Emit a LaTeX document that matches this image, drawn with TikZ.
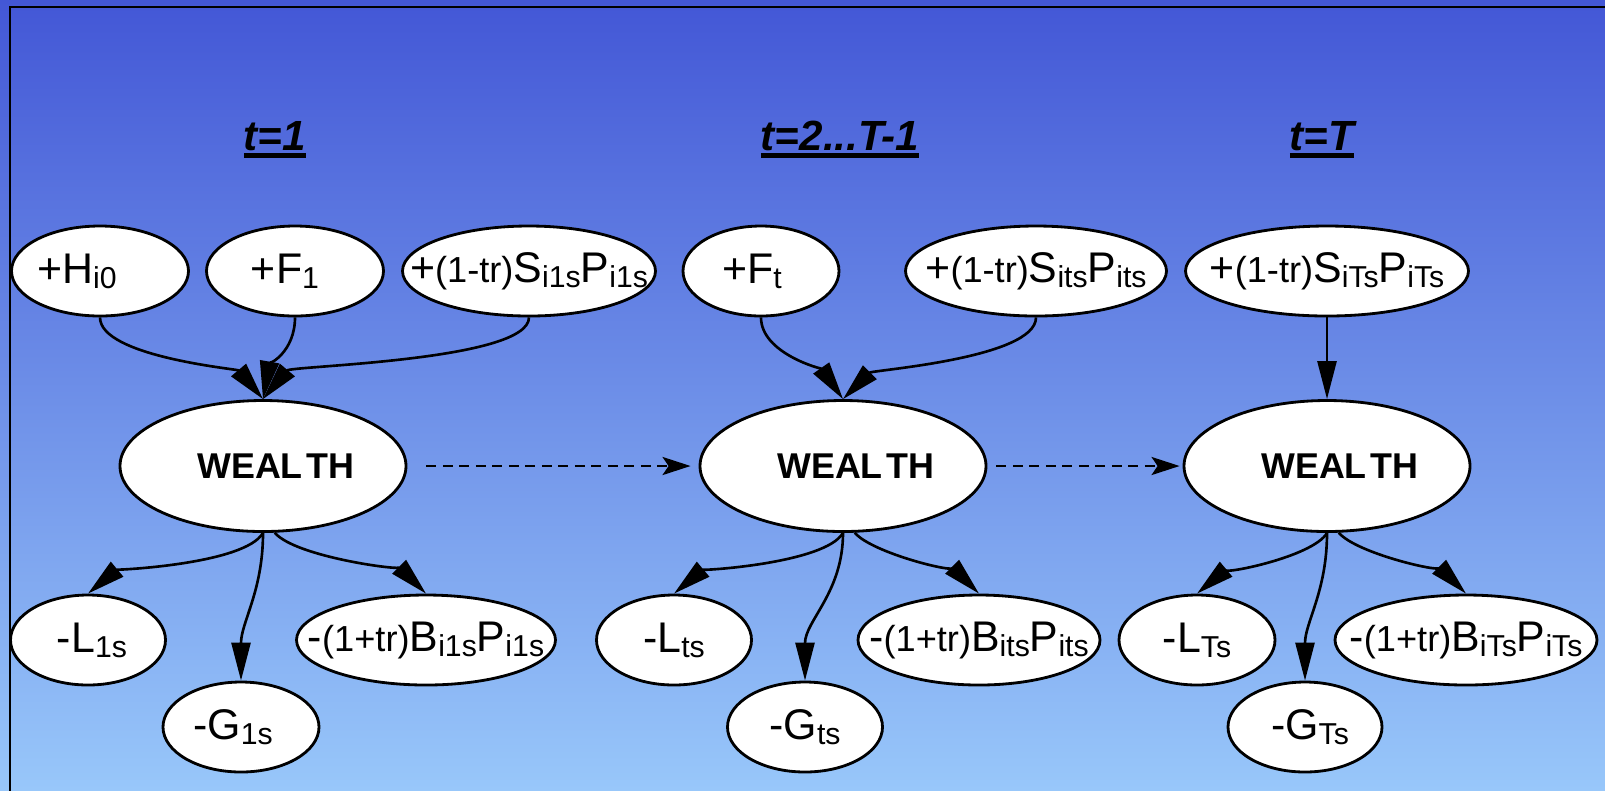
\documentclass[tikz,border=0pt]{standalone}
\usepackage{fontspec}
\setmainfont{Liberation Sans}
\usepackage{tikz}
\usetikzlibrary{shapes.geometric,arrows.meta}
\definecolor{bgtop}{HTML}{4357D6}
\definecolor{bgbottom}{HTML}{98C7FA}

\newsavebox{\titlebox}
\newcommand{\steptitle}[1]{\sbox{\titlebox}{#1}\rlap{\usebox{\titlebox}}\rule[-0.075cm]{\wd\titlebox}{0.045cm}}
\newcommand{\subs}[1]{\raisebox{-0.05cm}{\fontsize{8.6pt}{9pt}\selectfont #1}}
\newcommand{\pfont}[1]{{\fontsize{10.3pt}{12pt}\selectfont #1}}
\newcommand{\inoval}[2][0cm]{\makebox[0pt]{\hspace*{#1}#2\hspace*{-#1}}}

\begin{document}
\begin{tikzpicture}[
    x=1cm, y=1cm,
    oval/.style={ellipse, draw=black, fill=white, line width=0.8pt, inner sep=0pt, minimum height=0.90cm, font=\fontsize{12.2pt}{14pt}\selectfont},
    wealth/.style={oval, minimum width=2.86cm, minimum height=1.31cm, font=\fontsize{10.2pt}{12pt}\selectfont\bfseries},
    steplabel/.style={anchor=base, inner sep=0pt, font=\fontsize{12pt}{14pt}\selectfont\bfseries\itshape},
    flow/.style={-{Triangle[length=0.38cm, width=0.19cm]}, line width=0.75pt},
    carry/.style={-{Stealth[length=0.28cm, width=0.18cm, inset=0.06cm]}, line width=0.8pt, dash pattern=on 0.10cm off 0.065cm}
]
    % --- BACKGROUND AND FRAME ---
    \useasboundingbox (0,0) rectangle (16.05,-7.90);
    \shade[top color=bgtop, bottom color=bgbottom] (0,0) rectangle (16.05,-7.90);
    \draw[line width=0.7pt] (0.10,-7.95) -- (0.10,-0.07) -- (16.10,-0.07);

    % --- PERIOD TITLES ---
    \node[steplabel] (T1) at (2.75,-1.50) {\steptitle{t=1}};
    \node[steplabel] (T2) at (8.40,-1.50) {\steptitle{t=2...T-1}};
    \node[steplabel] (T3) at (13.22,-1.50) {\steptitle{t=T}};

    % --- INFLOWS ---
    \node[oval, minimum width=1.77cm] (H1) at (1.00,-2.71) {\inoval[-0.23cm]{+H\subs{i0}}};
    \node[oval, minimum width=1.77cm] (F1) at (2.95,-2.71) {\inoval[-0.10cm]{+F\subs{1}}};
    \node[oval, minimum width=2.53cm] (S1) at (5.29,-2.71) {\inoval{+\pfont{(1-tr)}S\subs{i1s}P\subs{i1s}}};
    \node[oval, minimum width=1.56cm] (F2) at (7.61,-2.71) {\inoval[-0.09cm]{+F\subs{t}}};
    \node[oval, minimum width=2.61cm] (S2) at (10.36,-2.71) {\inoval{+\pfont{(1-tr)}S\subs{its}P\subs{its}}};
    \node[oval, minimum width=2.83cm] (S3) at (13.27,-2.71) {\inoval{+\pfont{(1-tr)}S\subs{iTs}P\subs{iTs}}};

    % --- WEALTH STATES ---
    \node[wealth] (W1) at (2.63,-4.66) {\inoval[0.13cm]{WEAL\kern0.04cm TH}};
    \node[wealth] (W2) at (8.43,-4.66) {\inoval[0.13cm]{WEAL\kern0.04cm TH}};
    \node[wealth] (W3) at (13.27,-4.66) {\inoval[0.13cm]{WEAL\kern0.04cm TH}};

    % --- OUTFLOWS ---
    \node[oval, minimum width=1.55cm] (L1) at (0.88,-6.40) {\inoval[0.04cm]{-L\subs{1s}}};
    \node[oval, minimum width=1.56cm] (G1) at (2.41,-7.27) {\inoval[-0.08cm]{-G\subs{1s}}};
    \node[oval, minimum width=2.59cm] (B1) at (4.26,-6.40) {\inoval{-\pfont{(1+tr)}B\subs{i1s}P\subs{i1s}}};
    \node[oval, minimum width=1.55cm] (L2) at (6.74,-6.40) {\inoval{-L\subs{ts}}};
    \node[oval, minimum width=1.55cm] (G2) at (8.05,-7.27) {\inoval{-G\subs{ts}}};
    \node[oval, minimum width=2.42cm] (B2) at (9.79,-6.40) {\inoval{-\pfont{(1+tr)}B\subs{its}P\subs{its}}};
    \node[oval, minimum width=1.56cm] (L3) at (11.97,-6.40) {\inoval{-L\subs{Ts}}};
    \node[oval, minimum width=1.54cm] (G3) at (13.05,-7.27) {\inoval[0.05cm]{-G\subs{Ts}}};
    \node[oval, minimum width=2.62cm] (B3) at (14.66,-6.40) {\inoval{-\pfont{(1+tr)}B\subs{iTs}P\subs{iTs}}};

    % inflow arrows
    \draw[flow] (H1.south) to[out=-90, in=130, looseness=0.55] (W1.north);
    \draw[flow] (F1.south) to[out=-90, in=80] (W1.north);
    \draw[flow] (S1.south) to[out=-90, in=50, looseness=0.4] (W1.north);
    \draw[flow] (F2.south) to[out=-90, in=125, looseness=0.8] (W2.north);
    \draw[flow] (S2.south) to[out=-90, in=45, looseness=0.5] (W2.north);
    \draw[flow] (S3) -- (W3);

    % carry-over between periods
    \draw[carry, shorten <=0.19cm, shorten >=0.08cm] (W1) -- (W2);
    \draw[carry, shorten <=0.09cm, shorten >=0.03cm] (W2) -- (W3);

    % outflow arrows
    \draw[flow] (W1.south) to[out=-120, in=40, looseness=0.5] (L1.north);
    \draw[flow] (W1.south) to[out=-90, in=90] (G1.north);
    \draw[flow] (W1.-80) to[out=-50, in=135, looseness=0.5] (B1.north);
    \draw[flow] (W2.south) to[out=-120, in=40, looseness=0.5] (L2.north);
    \draw[flow] (W2.south) to[out=-90, in=90] (G2.north);
    \draw[flow] (W2.-80) to[out=-50, in=135, looseness=0.5] (B2.north);
    \draw[flow] (W3.south) to[out=-120, in=40, looseness=0.5] (L3.north);
    \draw[flow] (W3.south) to[out=-90, in=90] (G3.north);
    \draw[flow] (W3.-80) to[out=-50, in=135, looseness=0.5] (B3.north);
\end{tikzpicture}
\end{document}
